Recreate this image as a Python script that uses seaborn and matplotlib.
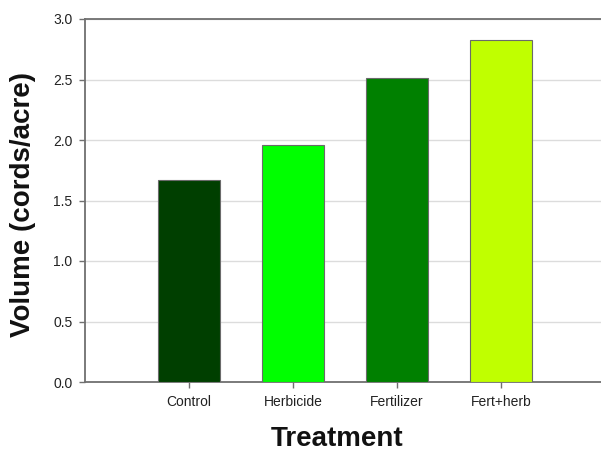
import matplotlib
matplotlib.use('Agg')
import matplotlib.pyplot as plt
import seaborn as sns
import pandas as pd

# ===== DATA ==================================================================

treatments = ['Control', 'Herbicide', 'Fertilizer', 'Fert+herb']
volume     = [1.67, 1.96, 2.51, 2.83]
bar_colors = ['#003F00', '#00FF00', '#008000', '#C0FF00']
y_ticks    = [0.0, 0.5, 1.0, 1.5, 2.0, 2.5, 3.0]

df = pd.DataFrame({'Treatment': treatments, 'Volume': volume})

# ===== STYLE =================================================================

sns.set_style('white')
plt.rcParams['font.family'] = ['Liberation Sans', 'DejaVu Sans']

fig = plt.figure(figsize=(6.01, 4.53), dpi=100)
ax = fig.add_axes([85 / 601, 71 / 453, 520 / 601, 363 / 453])

# ===== PLOT ==================================================================

sns.barplot(data=df, x='Treatment', y='Volume', hue='Treatment',
            palette=bar_colors, saturation=1, legend=False, width=0.6,
            edgecolor='#6a6a6a', linewidth=0.8, ax=ax, zorder=3)

ax.set_xlim(-1, 4)
ax.set_ylim(0, 3.0)
ax.set_yticks(y_ticks)
ax.set_yticklabels([f'{t:.1f}' for t in y_ticks])

ax.yaxis.grid(True, color='#dcdcdc', linewidth=1.0, zorder=0)
ax.xaxis.grid(False)
ax.set_axisbelow(True)

for side in ['left', 'bottom', 'top']:
    ax.spines[side].set_visible(True)
    ax.spines[side].set_color('#707070')
    ax.spines[side].set_linewidth(1.3)
ax.spines['right'].set_visible(False)

ax.tick_params(axis='both', which='major', direction='out', length=4,
               width=1.0, color='#707070', labelsize=10, labelcolor='#222222',
               bottom=True, left=True)
ax.tick_params(axis='y', pad=5)
ax.tick_params(axis='x', pad=5)

ax.set_xlabel('Treatment', fontsize=20, fontweight='bold', color='#111111')
ax.set_ylabel('Volume (cords/acre)', fontsize=20, fontweight='bold', color='#111111')
ax.xaxis.set_label_coords(0.485, -0.12)
ax.yaxis.set_label_coords(-0.095, 0.49)

fig.savefig('out.png', dpi=100)
